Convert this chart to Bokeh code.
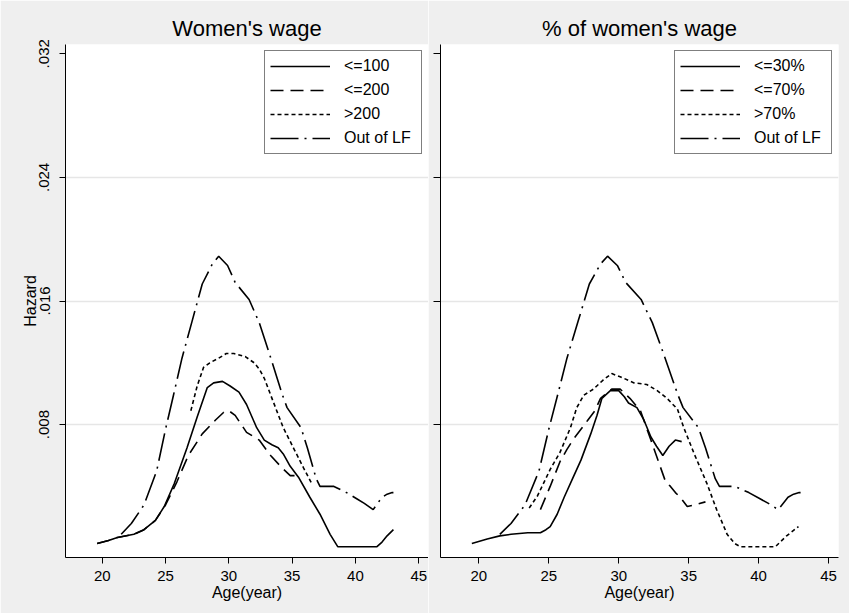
from bokeh.plotting import figure
from bokeh.layouts import row
from bokeh.models import FixedTicker, Range1d
from bokeh.embed import file_html
from bokeh.resources import INLINE

# ---------------- data ----------------
xtick_values = [20, 25, 30, 35, 40, 45]
ytick_values = [0.008, 0.016, 0.024, 0.032]
ytick_labels = [".008", ".016", ".024", ".032"]
ygrid_values = [0.008, 0.016, 0.024]

# Out of labour force (same in both panels)
olf_age = [21.5, 22.3, 23.3, 24.3, 25.0, 25.6, 26.3, 27.1, 27.9, 28.7, 29.2, 29.9,
           30.5, 31.6, 32.4, 33.2, 34.2, 34.6, 35.7, 36.2, 36.9, 37.2, 38.3, 39.3,
           40.1, 40.7, 41.4, 42.1, 42.5, 42.9, 43.0]
olf_haz = [0.0009, 0.0016, 0.0028, 0.0050, 0.0077, 0.0098, 0.0123, 0.0147, 0.0171,
           0.0184, 0.0189, 0.0183, 0.0172, 0.0161, 0.0146, 0.0126, 0.0100, 0.0091,
           0.0078, 0.0065, 0.0045, 0.0040, 0.0040, 0.0036, 0.0032, 0.0029, 0.0025,
           0.0033, 0.0035, 0.0036, 0.0036]

# Women's wage panel
w100_age = [19.6, 20.5, 21.2, 22.5, 23.3, 24.2, 24.9, 25.7, 26.7, 27.5, 28.3, 28.8,
            29.5, 30.1, 30.8, 31.4, 32.2, 32.8, 33.4, 33.9, 34.3, 34.85, 35.5, 36.4,
            37.2, 38.0, 38.6, 41.7, 42.1, 42.5, 43.0]
w100_haz = [0.0003, 0.0005, 0.0007, 0.0009, 0.0012, 0.0018, 0.0027, 0.0042, 0.0065,
            0.0085, 0.0104, 0.0107, 0.0108, 0.0105, 0.0101, 0.0093, 0.0078, 0.0070,
            0.0067, 0.0065, 0.0061, 0.0053, 0.0046, 0.0033, 0.0022, 0.0009, 0.0001,
            0.0001, 0.0004, 0.0008, 0.0012]

w200_age = [19.6, 20.5, 21.2, 22.5, 23.3, 24.2, 25.0, 25.9, 26.8, 27.9, 28.95, 29.6,
            30.0, 30.5, 31.4, 32.4, 33.3, 34.2, 34.85, 35.4, 35.7]
w200_haz = [0.0003, 0.0005, 0.0007, 0.0009, 0.0012, 0.0018, 0.0028, 0.0043, 0.0060,
            0.0074, 0.0083, 0.0088, 0.0089, 0.0086, 0.0075, 0.0070, 0.0060, 0.0052,
            0.0047, 0.0047, 0.0046]

wgt_age = [27.0, 27.5, 28.0, 28.5, 29.2, 29.8, 30.4, 31.3, 32.0, 32.4, 32.8, 33.5,
           34.3, 35.1, 35.9, 36.6]
wgt_haz = [0.0089, 0.0105, 0.0117, 0.0120, 0.0123, 0.0126, 0.0126, 0.0124, 0.0120,
           0.0116, 0.0110, 0.0095, 0.0078, 0.0065, 0.0052, 0.0041]

# % of women's wage panel
p30_age = [19.5, 20.6, 21.5, 22.3, 23.5, 24.4, 24.8, 25.1, 25.6, 26.1, 26.7, 27.3,
           28.0, 28.45, 28.8, 29.4, 30.0, 30.4, 30.7, 31.3, 31.8, 32.3, 32.7, 33.15,
           33.6, 34.05, 34.5]
p30_haz = [0.0003, 0.0006, 0.0008, 0.0009, 0.0010, 0.0010, 0.0012, 0.0014, 0.0022,
           0.0033, 0.0045, 0.0057, 0.0074, 0.0086, 0.0097, 0.0102, 0.0102, 0.0098,
           0.0094, 0.0091, 0.0083, 0.0072, 0.0066, 0.0060, 0.0066, 0.0070, 0.0069]

p70_age = [24.4, 25.1, 25.8, 26.3, 26.8, 27.3, 27.8, 28.3, 28.7, 29.5, 30.1, 30.8,
           31.55, 32.3, 33.0, 33.35, 33.7, 34.05, 34.4, 34.9, 35.4, 36.2]
p70_haz = [0.0025, 0.0040, 0.0056, 0.0064, 0.0071, 0.0077, 0.0083, 0.0089, 0.0097,
           0.0103, 0.0103, 0.0097, 0.0089, 0.0070, 0.0052, 0.0043, 0.0040, 0.0036,
           0.0033, 0.0027, 0.0028, 0.0030]

pgt_age = [23.6, 24.2, 25.1, 25.8, 26.55, 27.0, 27.5, 28.2, 28.9, 29.5, 30.1, 31.1,
           32.0, 32.75, 33.45, 34.2, 34.65, 35.4, 36.3, 37.0, 37.75, 38.3, 38.7, 41.2,
           42.0, 42.85]
pgt_haz = [0.0026, 0.0034, 0.0051, 0.0062, 0.0078, 0.0091, 0.0099, 0.0103, 0.0109,
           0.0113, 0.0111, 0.0107, 0.0106, 0.0102, 0.0097, 0.0090, 0.0078, 0.0061,
           0.0042, 0.0025, 0.0009, 0.0003, 0.0001, 0.0001, 0.0008, 0.0014]

titles = ["Women's wage", "% of women's wage"]
labels_left = ["<=100", "<=200", ">200", "Out of LF"]
labels_right = ["<=30%", "<=70%", ">70%", "Out of LF"]

# ---------------- styling ----------------
FONT = "Liberation Sans"
GRAY = "#efefef"
DASHES = ["solid", "13 7", "4 3", "28 6 2 6"]
LW = 1.6
HEIGHT = 613


def make_fig(title, xr, width, bl, br, ylabels):
    p = figure(width=width, height=HEIGHT, x_range=Range1d(*xr),
               y_range=Range1d(-0.0006, 0.0326),
               output_backend="svg", toolbar_location=None,
               min_border_left=bl, min_border_right=br,
               min_border_top=44, min_border_bottom=56)
    p.border_fill_color = GRAY
    p.background_fill_color = "white"
    p.outline_line_color = None

    p.title.text = title
    p.title.align = "center"
    p.title.text_font = FONT
    p.title.text_font_size = "22px"
    p.title.text_font_style = "normal"
    p.title.text_color = "black"
    p.title.standoff = 7

    p.xgrid.visible = False
    p.ygrid.ticker = FixedTicker(ticks=ygrid_values)
    p.ygrid.grid_line_color = "#e6e6e6"
    p.ygrid.grid_line_width = 1.5

    xa = p.xaxis[0]
    xa.ticker = FixedTicker(ticks=xtick_values)
    xa.axis_label = "Age(year)"
    ya = p.yaxis[0]
    ya.ticker = FixedTicker(ticks=ytick_values)
    for ax in (xa, ya):
        ax.axis_line_color = "black"
        ax.axis_line_width = 1
        ax.major_tick_line_color = "black"
        ax.major_tick_in = 0
        ax.major_tick_out = 6
        ax.minor_tick_line_color = None
        ax.major_label_text_font = FONT
        ax.major_label_text_font_size = "15px"
        ax.major_label_text_color = "black"
        ax.axis_label_text_font = FONT
        ax.axis_label_text_font_size = "16px"
        ax.axis_label_text_font_style = "normal"
        ax.axis_label_text_color = "black"
    xa.major_label_standoff = 7
    xa.axis_label_standoff = 0
    if ylabels:
        ya.axis_label = "Hazard"
        ya.major_label_orientation = "vertical"
        ya.major_label_overrides = dict(zip(ytick_values, ytick_labels))
        ya.major_label_standoff = 10
        ya.axis_label_standoff = -2
    else:
        ya.major_tick_out = 7
        ya.major_label_text_font_size = "0px"
        ya.major_label_standoff = 0
        ya.major_label_overrides = {v: "" for v in ytick_values}
    return p


def style_legend(p):
    lg = p.legend[0]
    lg.location = "top_right"
    lg.margin = 6
    lg.border_line_color = "black"
    lg.border_line_width = 1
    lg.background_fill_color = "white"
    lg.background_fill_alpha = 1
    lg.label_text_font = FONT
    lg.label_text_font_size = "16px"
    lg.label_text_color = "black"
    lg.glyph_width = 60
    lg.glyph_height = 20
    lg.label_height = 20
    lg.label_width = 72
    lg.label_standoff = 14
    lg.padding = 5
    lg.spacing = 4


p1 = make_fig(titles[0], (17.1, 45.77), 428, 65, 0, True)
for xs, ys, lab, d in zip([w100_age, w200_age, wgt_age, olf_age],
                          [w100_haz, w200_haz, wgt_haz, olf_haz],
                          labels_left, DASHES):
    p1.line(xs, ys, line_color="black", line_width=LW, line_dash=d, legend_label=lab)
style_legend(p1)

p2 = make_fig(titles[1], (17.26, 45.71), 421, 12, 11, False)
for xs, ys, lab, d in zip([p30_age, p70_age, pgt_age, olf_age],
                          [p30_haz, p70_haz, pgt_haz, olf_haz],
                          labels_right, DASHES):
    p2.line(xs, ys, line_color="black", line_width=LW, line_dash=d, legend_label=lab)
style_legend(p2)

layout = row(p1, p2, spacing=0)
open("out.html", "w").write(file_html(layout, INLINE))
